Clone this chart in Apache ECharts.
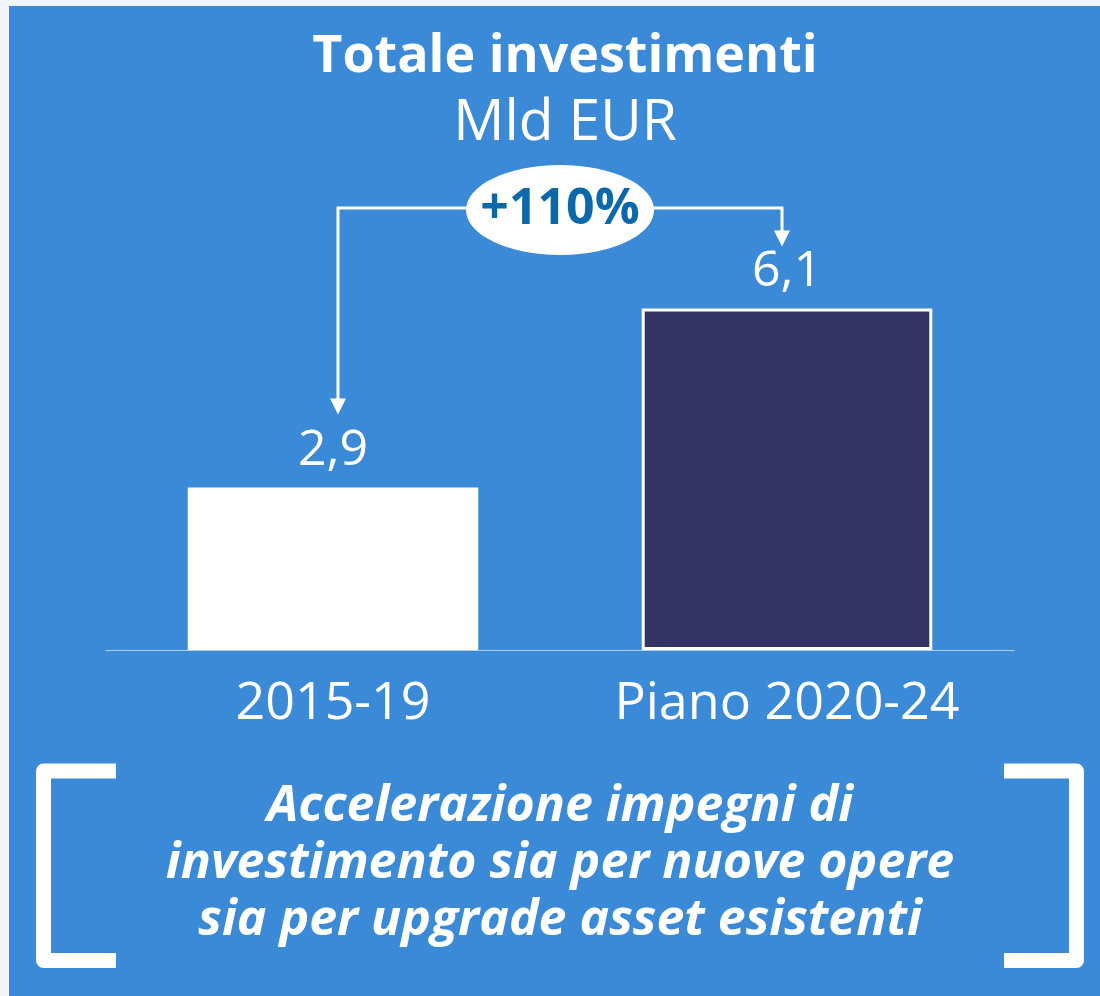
<!DOCTYPE html>
<html>
<head>
<meta charset="utf-8">
<title>Totale investimenti</title>
<script src="https://cdn.jsdelivr.net/npm/echarts@6/dist/echarts.min.js"></script>
<style>
  html, body { margin: 0; padding: 0; background: #f2f5f9; }
  #main { width: 1100px; height: 996px; }
</style>
</head>
<body>
<div id="main"></div>
<script>
// dati del grafico
var categories = ['2015-19', 'Piano 2020-24'];
var values = [2.9, 6.1];
var barColors = ['#ffffff', '#323363'];
var growthLabel = '+110%';
var titleText = 'Totale investimenti';
var unitText = 'Mld EUR';
var noteLines = [
    'Accelerazione impegni di',
    'investimento sia per nuove opere',
    'sia per upgrade asset esistenti'
];

var FONT = '"Open Sans", "Noto Sans", sans-serif';
var myChart = echarts.init(document.getElementById('main'));

var option = {
    backgroundColor: '#3a8ad7',
    animation: false,
    title: {
        text: titleText,
        subtext: unitText,
        left: 560,
        top: 20,
        textAlign: 'center',
        itemGap: 2,
        textStyle: { color: '#fff', fontFamily: FONT, fontWeight: 'bold', fontSize: 52, lineHeight: 64 },
        subtextStyle: { color: '#fff', fontFamily: FONT, fontSize: 57, lineHeight: 66 }
    },
    grid: { left: 106, right: 86, top: 202, bottom: 346 },
    xAxis: {
        type: 'category',
        data: categories,
        axisLine: { lineStyle: { color: 'rgba(255,255,255,0.6)', width: 1 } },
        axisTick: { show: false },
        axisLabel: { color: '#fff', fontFamily: FONT, fontSize: 52, margin: 28 }
    },
    yAxis: {
        type: 'value',
        min: 0,
        max: 8,
        show: false,
        splitLine: { show: false }
    },
    series: [{
        type: 'bar',
        barWidth: '64%',
        data: values.map(function (v, i) {
            return { value: v, itemStyle: { color: barColors[i] } };
        }),
        itemStyle: { borderColor: '#fff', borderWidth: 3 },
        label: {
            show: true,
            position: 'top',
            distance: 12,
            color: '#fff',
            fontFamily: FONT,
            fontSize: 50,
            formatter: function (p) { return String(p.value).replace('.', ','); }
        }
    }]
};
myChart.setOption(option);

// frecce, ellisse, parentesi e testo in basso
function drawExtras() {
    var p0 = myChart.convertToPixel({ seriesIndex: 0 }, [0, values[0]]);
    var p1 = myChart.convertToPixel({ seriesIndex: 0 }, [1, values[1]]);
    var xl = p0[0] + 5, xr = p1[0] - 5;
    var yTop = 208;
    var tipL = p0[1] - 73, tipR = p1[1] - 62;
    var cx = (p0[0] + p1[0]) / 2;
    var line = { stroke: '#fff', lineWidth: 3, fill: null };
    var head = function (x, y) {
        return { type: 'polygon', shape: { points: [[x - 8, y - 16], [x + 8, y - 16], [x, y]] }, style: { fill: '#fff' } };
    };
    myChart.setOption({
        graphic: [
            { type: 'rect', shape: { x: 0, y: 0, width: 9, height: 996 }, style: { fill: '#f2f5f9' } },
            { type: 'rect', shape: { x: 0, y: 0, width: 1100, height: 6 }, style: { fill: '#f2f5f9' } },
            { type: 'polyline', shape: { points: [[xl, tipL - 14], [xl, yTop], [cx, yTop]] }, style: line },
            { type: 'polyline', shape: { points: [[cx, yTop], [xr, yTop], [xr, tipR - 14]] }, style: line },
            head(xl, tipL),
            head(xr, tipR),
            { type: 'ellipse', shape: { cx: cx, cy: yTop + 2, rx: 94, ry: 45 }, style: { fill: '#fff' } },
            {
                type: 'text', x: cx, y: yTop + 2,
                style: {
                    text: growthLabel, fill: '#0b69ab', font: 'bold 50px ' + FONT,
                    align: 'center', verticalAlign: 'middle'
                }
            },
            {
                type: 'polyline',
                shape: { points: [[116, 771], [43.5, 771], [43.5, 960.5], [116, 960.5]] },
                style: { stroke: '#fff', lineWidth: 15, fill: null, lineJoin: 'round' }
            },
            {
                type: 'polyline',
                shape: { points: [[1004, 771], [1076.5, 771], [1076.5, 960.5], [1004, 960.5]] },
                style: { stroke: '#fff', lineWidth: 15, fill: null, lineJoin: 'round' }
            },
            {
                type: 'text', x: cx, y: 864,
                style: {
                    text: noteLines.join('\n'), fill: '#fff',
                    font: 'italic bold 50px ' + FONT, lineHeight: 57,
                    align: 'center', verticalAlign: 'middle'
                }
            }
        ]
    });
}
drawExtras();
</script>
</body>
</html>
